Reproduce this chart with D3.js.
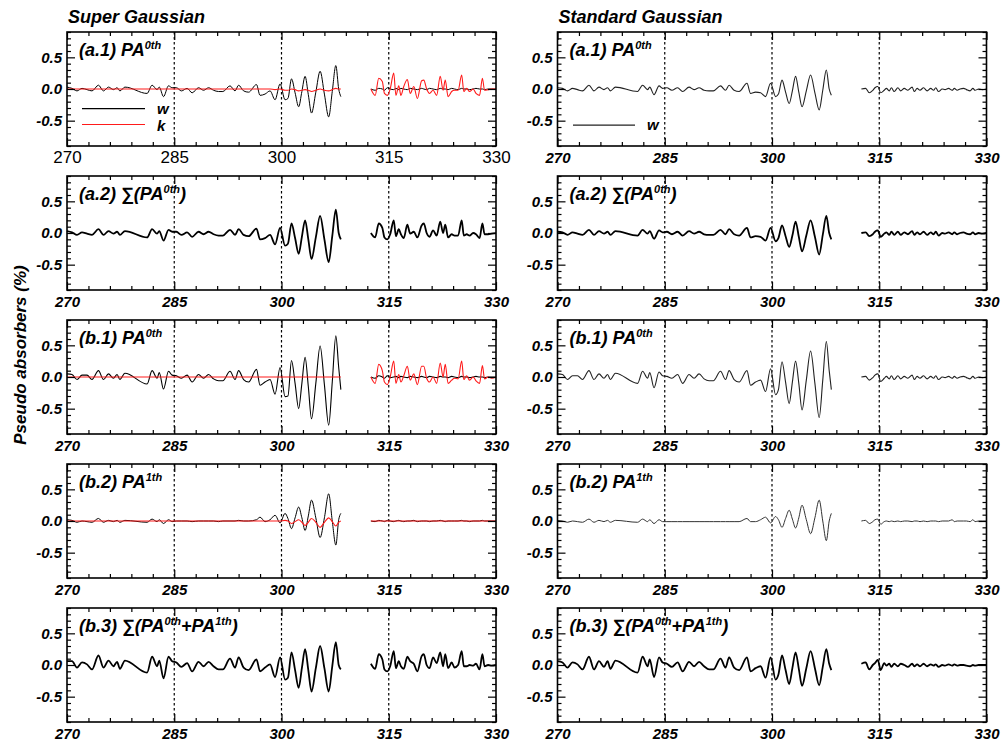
<!DOCTYPE html>
<html>
<head>
<meta charset="utf-8">
<title>Pseudo absorbers</title>
<script src="https://cdn.jsdelivr.net/npm/d3@7"></script>
<style>
  body { margin: 0; background: #fff; }
  text { font-family: "Liberation Sans", Arial, Helvetica, sans-serif; }
</style>
</head>
<body>
<svg id="chart" width="1003" height="747"></svg>
<script>
// Pseudo absorbers: Super Gaussian (left) vs Standard Gaussian (right)

// --- data ---
const xTicks = [270, 285, 300, 315, 330];
const xMinor = [273, 276, 279, 282, 288, 291, 294, 297, 303, 306, 309, 312, 318, 321, 324, 327];
const yTicks = [-0.5, 0.0, 0.5];
const yMinor = [-0.9, -0.8, -0.7, -0.6, -0.4, -0.3, -0.2, -0.1, 0.1, 0.2, 0.3, 0.4, 0.6, 0.7, 0.8, 0.9];
const refLines = [285, 300, 315];

// wavelength samples (nm), segment before and after the gap
const xSeg1 = [270, 270.7, 271.4, 272.1, 272.8, 273.5, 274.4, 275.1, 275.8, 276.5,
  277, 277.4, 278.1, 281.2, 281.9, 282.6, 282.9, 283.5, 284.2, 284.7,
  285.3, 286, 286.8, 287.5, 288.4, 289.1, 289.8, 290.5, 291.2, 291.8,
  292.8, 293.5, 294, 294.7, 295.4, 296.5, 297, 297.7, 298.4, 299.1,
  299.8, 300.5, 300.9, 301.4, 301.9, 302.4, 302.85, 303.3, 303.75, 304.2,
  304.8, 305.4, 306.0, 306.6, 307.1, 307.6, 308.0, 308.3];
const xSeg2 = [312.5, 313.1, 313.6, 314.1, 314.4, 314.8, 315.2, 315.7, 316.0, 316.4,
  316.7, 317.1, 317.6, 318.0, 318.5, 319.0, 319.6, 319.9, 320.3, 320.7,
  321.2, 321.7, 322.2, 322.6, 322.9, 323.3, 323.8, 324.2, 324.7, 325.2,
  325.5, 325.9, 326.3, 326.8, 327.2, 327.7, 328.1, 328.4, 328.9, 329.4, 330.0];

// Super Gaussian
const sgA1w1 = [0.03,0.01,-0.03,0.01,-0.01,-0.03,0.06,-0.03,0.03,-0.01, 0.02,-0.03,0.03,-0.07,0.06,-0.01,0.03,-0.12,0.05,0.02,
  0.02,-0.03,0.01,-0.06,0.02,-0.02,0.02,-0.02,-0.04,-0.04, 0.05,-0.03,0.06,-0.03,-0.05,0.07,-0.1,-0.08,-0.03,-0.17,
  0.08,-0.17,-0.15,0.16,-0.06,-0.28,-0.04,0.2,-0.09,-0.38, -0.05,0.28,-0.08,-0.44,-0.04,0.37,0.0,-0.12];
const sgA1w2 = [0,-0.02,0.01,0,-0.02,0.02,0,-0.01,0.01,-0.01, 0.01,0,-0.01,0.01,0,-0.01,0.01,0,-0.01,0.01,
  0,-0.01,0.01,0,0,-0.01,0.01,0,-0.01,0.01, 0,0,-0.01,0,0.01,0,0,-0.01,0,0, 0];
const sgA1k1 = [0,0,0,0,0,0,0,0,0,0, 0,0,0,0,0,0,0,0,0,0, 0,0,0,0,0,0,0,0,0,0, 0,0,0,0,0,0,0,0,0,-0.01,
  0,-0.02,-0.02,0,-0.01,-0.03,-0.02,-0.01,-0.02,-0.04, -0.02,0,-0.02,-0.03,-0.01,0.01,0,0];
const sgA1k2 = [0,-0.1,0.17,0.12,-0.07,-0.1,0,0.25,-0.1,0.05, -0.1,0.04,0.15,-0.07,0.04,-0.15,0.13,0.14,0,-0.07,
  -0.02,-0.1,0.2,-0.02,0.14,-0.12,-0.04,-0.02,-0.02,0.22, -0.04,0.01,-0.04,0,-0.07,-0.1,0.17,-0.02,-0.01,0, 0];
const sgA2s1 = [0.03,0.01,-0.03,0.01,-0.01,-0.03,0.06,-0.03,0.03,-0.01, 0.02,-0.03,0.03,-0.07,0.06,-0.01,0.03,-0.12,0.05,0.02,
  0.02,-0.03,0.01,-0.06,0.02,-0.02,0.02,-0.02,-0.04,-0.04, 0.05,-0.03,0.06,-0.03,-0.05,0.07,-0.1,-0.08,-0.03,-0.18,
  0.08,-0.2,-0.17,0.15,-0.08,-0.33,-0.06,0.2,-0.1,-0.41, -0.07,0.27,-0.1,-0.46,-0.05,0.37,0.0,-0.1];
const sgA2s2 = [0,-0.07,0.15,0.08,-0.07,-0.1,-0.02,0.2,-0.05,0.06, -0.02,-0.08,0.13,-0.01,0.02,-0.07,0.12,0.15,0.0,-0.06,
  0.04,-0.04,0.18,0.0,0.13,-0.07,-0.02,-0.04,-0.04,0.2, -0.04,-0.02,-0.04,0.0,-0.02,-0.08,0.15,-0.02,-0.02,-0.01, 0];
const sgB1w1 = [0.05,0.04,-0.04,0.03,0.03,-0.04,0.1,-0.04,0.05,-0.02, 0.04,-0.04,0.06,-0.11,0.1,-0.02,0.07,-0.19,0.09,0.03,
  0.02,-0.02,0.03,-0.08,0.04,-0.02,0.04,-0.03,-0.06,-0.06, 0.09,-0.04,0.1,-0.04,-0.08,0.12,-0.13,-0.08,-0.04,-0.27,
  0.15,-0.31,-0.3,0.26,-0.1,-0.5,-0.1,0.31,-0.15,-0.66, -0.1,0.49,-0.12,-0.76,-0.08,0.65,0.15,-0.2];
const sgB1w2 = [0,-0.02,0.02,0,-0.02,0.02,-0.01,0,0.01,-0.01, 0.01,0,-0.01,0.01,0,-0.01,0.01,0,-0.01,0.01,
  0,-0.01,0.01,0,0,-0.01,0.01,0,-0.01,0.01, 0,0,-0.01,0,0.01,0,0,-0.01,0,0, 0];
const sgB1k1 = [0,0,0,0,0,0,0,0,0,0, 0,0,0,0,0,0,0,0,0,0, 0,0,0,0,0,0,0,0,0,0, 0,0,0,0,0,0,0,0,0,0,
  0,0,0,0,0,0,0,0,0,0, 0,0,0,0,0,0,0,0];
const sgB1k2 = [0,-0.1,0.2,0.1,-0.08,-0.12,0,0.25,-0.1,0.04, -0.08,0.02,0.17,-0.05,0.05,-0.12,0.17,0.17,-0.02,-0.08,
  0,-0.1,0.22,0,0.2,-0.1,-0.05,-0.02,-0.03,0.25, -0.04,0.02,-0.05,0,-0.06,-0.1,0.18,-0.03,0,-0.02, 0];
const sgB2w1 = [0.02,0.01,-0.02,0.0,-0.01,-0.02,0.04,-0.02,0.01,-0.01, 0.01,-0.02,0.01,-0.02,0.03,-0.01,0.02,-0.04,0.02,-0.01,
  0,0,0,-0.01,0,0,0,0,-0.01,0, 0,0,0.01,0,0,0.02,0.06,-0.01,0.02,0.09,
  -0.03,0.12,0.04,-0.12,0.05,0.22,0.05,-0.15,0.08,0.33, 0.05,-0.26,0.05,0.43,0,-0.38,0.02,0.12];
const sgB2w2 = [0,-0.01,0.01,0,-0.01,0.01,0,-0.01,0,0.01, 0,-0.01,0,0,0.01,-0.01,0,0,0,-0.01,
  0,0,0.01,0,-0.01,0,0,0,0,0.01, 0,0,-0.01,0,0,0,0.01,0,0,0, 0];
const sgB2k1 = [0,0,0,0,0,0,0,0,0,0, 0,0,0,0,0,0,0,0,0,0, 0,0,0,0,0,0,0,0,0,0, 0,0,0,0,0,0,0,0,0,0,
  0,0.01,0,-0.04,-0.01,0.02,-0.02,-0.07,-0.02,0.04, -0.02,-0.1,-0.02,0.05,-0.01,-0.08,-0.02,0];
const sgB2k2 = [0,0,0,0,0,0,0,0,0,0, 0,0,0,0,0,0,0,0,0,0, 0,0,0,0,0,0,0,0,0,0, 0,0,0,0,0,0,0,0,0,0, 0];
const sgB3s1 = [0.06,0.06,-0.04,0.04,0.01,-0.07,0.15,-0.04,0.07,-0.02, 0.05,-0.06,0.07,-0.12,0.13,-0.02,0.07,-0.21,0.13,0.06,
  0.04,-0.03,0.03,-0.1,0.05,-0.02,0.05,-0.02,-0.07,-0.07, 0.1,-0.04,0.12,-0.04,-0.08,0.09,-0.1,-0.04,0.01,-0.19,
  0.12,-0.23,-0.2,0.2,-0.08,-0.36,-0.05,0.25,-0.08,-0.42, -0.05,0.3,-0.05,-0.42,-0.02,0.36,0.0,-0.07];
const sgB3s2 = [0.02,-0.06,0.17,0.09,-0.07,-0.1,-0.02,0.22,-0.05,0.06, -0.02,-0.06,0.13,0.06,0.02,-0.1,0.14,0.17,0.0,-0.05,
  0.12,0.03,0.2,-0.02,0.17,-0.05,0.04,-0.04,0.0,0.22, -0.02,-0.02,0.0,-0.01,0.02,-0.07,0.17,-0.02,0.0,-0.01, 0];

// Standard Gaussian
const stA1w1 = [0.02,0.01,-0.03,0.01,-0.01,-0.03,0.06,-0.03,0.03,-0.01, 0.02,-0.03,0.03,-0.04,0.06,-0.01,0.03,-0.09,0.05,0.01,
  0.02,-0.02,0.02,-0.04,0.03,-0.01,0.02,-0.02,-0.03,-0.03, 0.05,-0.02,0.06,-0.02,-0.04,0.09,-0.07,-0.05,-0.06,-0.12,
  0.09,-0.12,-0.08,0.14,-0.05,-0.23,-0.03,0.2,-0.05,-0.28, -0.03,0.22,-0.06,-0.33,-0.02,0.3,0.0,-0.1];
const stA1w2 = [0,0.01,-0.06,-0.02,0.02,0.04,-0.06,-0.02,0.01,-0.03, 0.02,-0.04,0.02,-0.03,0.01,-0.02,0.03,-0.04,0.01,-0.02,
  0.02,-0.03,0.01,-0.02,0.02,-0.04,0.0,-0.01,0.01,-0.02, 0.01,-0.02,0.0,0.01,-0.01,-0.03,0.01,-0.02,0.0,-0.01, 0];
const stA2s1 = [0.02,0.01,-0.03,0.01,-0.01,-0.03,0.05,-0.03,0.03,-0.01, 0.02,-0.03,0.03,-0.04,0.05,-0.01,0.03,-0.09,0.04,0.01,
  0.02,-0.02,0.02,-0.04,0.03,-0.01,0.02,-0.02,-0.03,-0.03, 0.05,-0.02,0.06,-0.02,-0.04,0.08,-0.07,-0.05,-0.06,-0.12,
  0.08,-0.13,-0.08,0.12,-0.05,-0.22,-0.04,0.18,-0.06,-0.29, -0.04,0.2,-0.06,-0.34,-0.03,0.27,0.0,-0.1];
const stA2s2 = [0,0.01,-0.05,-0.02,0.02,0.04,-0.06,-0.01,0.01,-0.03, 0.02,-0.03,0.02,-0.03,0.01,-0.02,0.03,-0.03,0.01,-0.02,
  0.02,-0.03,0.01,-0.02,0.02,-0.04,0.0,-0.01,0.01,-0.02, 0.01,-0.02,0.0,0.01,-0.01,-0.02,0.01,-0.02,0.0,-0.01, 0];
const stB1w1 = [0.05,0.04,-0.04,0.02,0.02,-0.04,0.1,-0.04,0.05,-0.02, 0.04,-0.04,0.06,-0.1,0.09,-0.02,0.07,-0.17,0.08,0.02,
  0.01,-0.02,0.04,-0.1,0.04,-0.02,0.05,-0.03,-0.06,-0.06, 0.09,-0.04,0.1,-0.04,-0.08,0.1,-0.13,-0.08,-0.05,-0.23,
  0.13,-0.28,-0.2,0.24,-0.08,-0.42,-0.08,0.25,-0.1,-0.52, -0.05,0.41,-0.1,-0.64,-0.05,0.56,0.1,-0.2];
const stB1w2 = [0,0.01,-0.05,-0.01,0.03,0.05,-0.07,-0.02,0.01,-0.03, 0.02,-0.04,0.02,-0.03,0.01,-0.02,0.03,-0.04,0.01,-0.02,
  0.02,-0.03,0.01,-0.02,0.02,-0.04,0.0,-0.01,0.01,-0.02, 0.01,-0.02,0.0,0.01,-0.01,-0.03,0.01,-0.02,0.0,-0.01, 0];
const stB2w1 = [0.01,0.0,-0.02,0.0,-0.01,-0.02,0.03,-0.02,0.01,-0.01, 0.01,-0.02,0.01,-0.02,0.03,-0.01,0.02,-0.04,0.02,-0.01,
  -0.01,-0.01,-0.01,-0.01,-0.01,-0.01,-0.01,-0.01,-0.01,-0.01, -0.01,-0.01,-0.01,-0.01,-0.01,0.04,-0.01,-0.01,0.02,0.06,
  -0.03,0.07,0.02,-0.1,0.04,0.17,0.03,-0.11,0.05,0.25, 0.02,-0.2,0.05,0.33,0.0,-0.31,0.0,0.12];
const stB2w2 = [0,0.01,-0.04,-0.01,0.02,0.03,-0.05,-0.01,0.0,-0.01, 0.0,-0.01,0.0,-0.01,0.0,0.0,-0.01,0.0,0.0,-0.01,
  0.0,-0.01,0.0,0.0,0.0,-0.01,0.0,0.0,0.0,0.02, -0.01,0.0,0.0,0.0,0.0,-0.01,0.02,-0.01,0.0,0.0, 0];
const stB3s1 = [0.06,0.04,-0.04,0.04,0.01,-0.07,0.13,-0.07,0.06,-0.03, 0.06,-0.06,0.07,-0.12,0.13,-0.02,0.09,-0.19,0.12,0.04,
  0.02,-0.03,0.04,-0.1,0.05,-0.02,0.05,-0.02,-0.07,-0.07, 0.1,-0.04,0.12,-0.04,-0.08,0.12,-0.1,-0.05,-0.02,-0.2,
  0.12,-0.23,-0.15,0.15,-0.08,-0.3,-0.05,0.2,-0.06,-0.33, -0.05,0.22,-0.05,-0.32,-0.03,0.25,0.02,-0.08];
const stB3s2 = [0.02,0.04,-0.07,0.0,0.03,0.08,-0.08,0.03,-0.01,0.02, -0.03,0.02,-0.02,0.02,0.0,-0.03,0.02,-0.02,0.01,-0.02,
  0.02,-0.02,0.01,-0.01,0.01,-0.03,0.0,-0.01,0.01,-0.01, 0.01,-0.01,0.0,0.0,-0.01,-0.02,0.0,-0.01,0.0,0.0, 0];

const colTitles = ['Super Gaussian', 'Standard Gaussian'];
const yTitle = 'Pseudo absorbers (%)';

// --- layout ---
const svg = d3.select('#chart');
const colLeft = [67, 557.5];
const plotW = 429, plotH = 114;
const rowTop = r => 32 + 144 * r;
const RED = '#ff1a1a';

const panels = [
  { col: 0, row: 0, label: [['(a.1) PA', 0], ['0th', 1]], plainX: true,
    series: [[sgA1w1, sgA1w2, '#000', 1.0], [sgA1k1, sgA1k2, RED, 1.1]],
    legend: { x1: 82, x2: 145, items: [['w', '#000', -0.31], ['k', RED, -0.56]] } },
  { col: 0, row: 1, label: [['(a.2) \u2211(PA', 0], ['0th', 1], [')', 0]],
    series: [[sgA2s1, sgA2s2, '#000', 1.8]] },
  { col: 0, row: 2, label: [['(b.1) PA', 0], ['0th', 1]],
    series: [[sgB1w1, sgB1w2, '#000', 1.1], [sgB1k1, sgB1k2, RED, 1.1]] },
  { col: 0, row: 3, label: [['(b.2) PA', 0], ['1th', 1]],
    series: [[sgB2w1, sgB2w2, '#000', 1.0], [sgB2k1, sgB2k2, RED, 1.1]] },
  { col: 0, row: 4, label: [['(b.3) \u2211(PA', 0], ['0th', 1], ['+PA', 0], ['1th', 1], [')', 0]],
    series: [[sgB3s1, sgB3s2, '#000', 1.8]] },
  { col: 1, row: 0, label: [['(a.1) PA', 0], ['0th', 1]],
    series: [[stA1w1, stA1w2, '#222', 1.1]],
    legend: { x1: 573, x2: 635, items: [['w', '#222', -0.57]] } },
  { col: 1, row: 1, label: [['(a.2) \u2211(PA', 0], ['0th', 1], [')', 0]],
    series: [[stA2s1, stA2s2, '#000', 1.8]] },
  { col: 1, row: 2, label: [['(b.1) PA', 0], ['0th', 1]],
    series: [[stB1w1, stB1w2, '#222', 1.1]] },
  { col: 1, row: 3, label: [['(b.2) PA', 0], ['1th', 1]],
    series: [[stB2w1, stB2w2, '#333', 1.0]] },
  { col: 1, row: 4, label: [['(b.3) \u2211(PA', 0], ['0th', 1], ['+PA', 0], ['1th', 1], [')', 0]],
    series: [[stB3s1, stB3s2, '#000', 1.8]] }
];

function styleText(sel, size, bold, italic) {
  sel.attr('font-family', '"Liberation Sans", Arial, Helvetica, sans-serif')
    .attr('font-size', size)
    .attr('font-weight', bold ? 'bold' : 'normal')
    .attr('font-style', italic ? 'italic' : 'normal')
    .attr('fill', '#000');
}

function drawPanel(p) {
  const left = colLeft[p.col], top = rowTop(p.row);
  const x = d3.scaleLinear().domain([270, 330]).range([left, left + plotW]);
  const y = d3.scaleLinear().domain([-0.9, 0.9]).range([top + plotH, top]);
  const g = svg.append('g');

  // dotted verticals
  g.selectAll('line.ref').data(refLines).enter().append('line')
    .attr('class', 'ref')
    .attr('x1', d => x(d)).attr('x2', d => x(d))
    .attr('y1', top).attr('y2', top + plotH)
    .attr('stroke', '#000').attr('stroke-width', 1.2)
    .attr('stroke-dasharray', '2.5,2.5');

  // curves, two segments each (gap 308-312 nm)
  const line = d3.line().x(d => x(d[0])).y(d => y(d[1]))
    .curve(d3.curveMonotoneX);
  p.series.forEach(([v1, v2, color, width]) => {
    [[xSeg1, v1], [xSeg2, v2]].forEach(([xs, vs]) => {
      g.append('path')
        .datum(xs.map((xv, i) => [xv, vs[i]]))
        .attr('d', line)
        .attr('fill', 'none').attr('stroke', color)
        .attr('stroke-width', width).attr('stroke-linejoin', 'round');
    });
  });

  // legend
  if (p.legend) {
    p.legend.items.forEach(([name, color, v], i) => {
      g.append('line')
        .attr('x1', p.legend.x1).attr('x2', p.legend.x2)
        .attr('y1', y(v)).attr('y2', y(v))
        .attr('stroke', color).attr('stroke-width', 1.1);
      g.append('text')
        .attr('x', p.legend.x2 + 12).attr('y', y(v) + 5 + i * 2)
        .text(name)
        .call(styleText, 15, true, true);
    });
  }

  // axes: ticks point inward
  const noDomain = s => s.select('.domain').remove();
  const fmtY = d => d.toFixed(1);

  const bottom = g.append('g').attr('transform', `translate(0,${top + plotH})`);
  bottom.append('g').call(d3.axisBottom(x).tickValues(xMinor).tickSize(-4).tickFormat('')).call(noDomain);
  bottom.append('g').call(d3.axisBottom(x).tickValues(xTicks).tickSize(-8).tickPadding(p.plainX ? 5 : 6).tickFormat(d3.format('d')))
    .call(noDomain)
    .call(s => s.selectAll('text').call(styleText, p.plainX ? 17 : 15, !p.plainX, !p.plainX));

  const topAx = g.append('g').attr('transform', `translate(0,${top})`);
  topAx.append('g').call(d3.axisTop(x).tickValues(xMinor).tickSize(-4).tickFormat('')).call(noDomain);
  topAx.append('g').call(d3.axisTop(x).tickValues(xTicks).tickSize(-8).tickFormat('')).call(noDomain);

  const leftAx = g.append('g').attr('transform', `translate(${left},0)`);
  leftAx.append('g').call(d3.axisLeft(y).tickValues(yMinor).tickSize(-4).tickFormat('')).call(noDomain);
  leftAx.append('g').call(d3.axisLeft(y).tickValues(yTicks).tickSize(-8).tickPadding(5).tickFormat(fmtY))
    .call(noDomain)
    .call(s => s.selectAll('text').call(styleText, 15, true, true));

  const rightAx = g.append('g').attr('transform', `translate(${left + plotW},0)`);
  rightAx.append('g').call(d3.axisRight(y).tickValues(yMinor).tickSize(-4).tickFormat('')).call(noDomain);
  rightAx.append('g').call(d3.axisRight(y).tickValues(yTicks).tickSize(-8).tickFormat('')).call(noDomain);

  g.selectAll('.tick line').attr('stroke', '#000').attr('stroke-width', 1.2);

  // frame
  g.append('rect')
    .attr('x', left).attr('y', top).attr('width', plotW).attr('height', plotH)
    .attr('fill', 'none').attr('stroke', '#000').attr('stroke-width', 1.6);

  // panel label with superscripts
  const t = g.append('text').attr('x', left + 12).attr('y', top + 24)
    .call(styleText, 18, true, true);
  let raised = false;
  p.label.forEach(([txt, sup]) => {
    const ts = t.append('tspan').text(txt);
    if (sup && !raised) { ts.attr('dy', -7).attr('font-size', 11); raised = true; }
    else if (sup) { ts.attr('font-size', 11); }
    else if (raised) { ts.attr('dy', 7); raised = false; }
  });
}

panels.forEach(drawPanel);

// column titles
colTitles.forEach((txt, i) => {
  svg.append('text').attr('x', colLeft[i] + 1).attr('y', 23).text(txt)
    .call(styleText, 18, true, true);
});

// shared y title
svg.append('text')
  .attr('transform', 'translate(26,355) rotate(-90)')
  .attr('text-anchor', 'middle')
  .text(yTitle)
  .call(styleText, 17, true, true);
</script>
</body>
</html>
